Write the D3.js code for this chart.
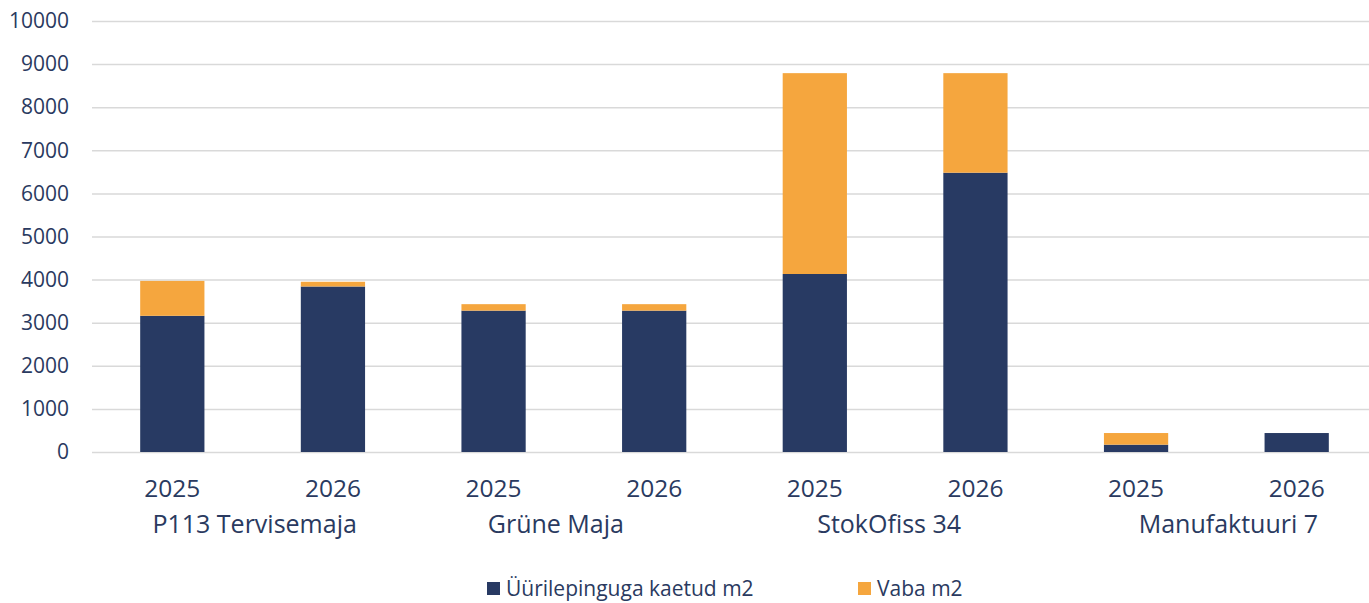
<!DOCTYPE html>
<html>
<head>
<meta charset="utf-8">
<script src="https://cdn.jsdelivr.net/npm/d3@7"></script>
<style>
  html, body { margin: 0; padding: 0; background: #fff; }
  svg { display: block; }
</style>
</head>
<body>
<svg id="chart" width="1369" height="603"></svg>
<script>
// ── Data ────────────────────────────────────────────────────────────────
const buildings = ['P113 Tervisemaja', 'Grüne Maja', 'StokOfiss 34', 'Manufaktuuri 7'];
const years = ['2025', '2026'];
const leasedM2 = [3160, 3840, 3280, 3280, 4130, 6480, 170, 440];
const vacantM2 = [810, 110, 150, 150, 4660, 2310, 270, 0];
const seriesNames = ['Üürilepinguga kaetud m2', 'Vaba m2'];
const yTicks = [0, 1000, 2000, 3000, 4000, 5000, 6000, 7000, 8000, 9000, 10000];

// ── Layout ──────────────────────────────────────────────────────────────
const W = 1369, H = 603;
const PLOT = { left: 92, right: 1377, top: 21, bottom: 452 };
const NAVY = '#283a63';
const ORANGE = '#f5a63e';
const TEXT = '#2a3a60';
const GRID = '#d9d9d9';
const FONT = '"Open Sans", sans-serif';
// Excel nudges the group labels a little off centre
const groupLabelShift = [2, -18, -6, 12];

const rows = [];
buildings.forEach((b, bi) => {
  years.forEach((yr, yi) => {
    const i = bi * years.length + yi;
    rows.push({ key: b + '|' + yr, building: b, year: yr, leased: leasedM2[i], vacant: vacantM2[i] });
  });
});

const svg = d3.select('#chart');

const x = d3.scaleBand()
  .domain(rows.map(d => d.key))
  .range([PLOT.left, PLOT.right])
  .paddingInner(0.6)
  .paddingOuter(0.3);

const y = d3.scaleLinear()
  .domain([0, 10000])
  .range([PLOT.bottom, PLOT.top]);

// Gridlines + y labels
const yAxis = d3.axisLeft(y)
  .tickValues(yTicks)
  .tickSize(-(W - PLOT.left))
  .tickPadding(23)
  .tickFormat(d3.format('d'));

const yG = svg.append('g')
  .attr('transform', `translate(${PLOT.left},0)`)
  .call(yAxis);
yG.select('.domain').remove();
yG.selectAll('line').attr('stroke', GRID).attr('stroke-width', 1.5);
yG.selectAll('text')
  .attr('fill', TEXT)
  .attr('font-family', FONT)
  .attr('font-size', '21px');

// Stacked bars
const stack = d3.stack().keys(['leased', 'vacant']);
const layers = stack(rows);
const colors = [NAVY, ORANGE];

svg.append('g')
  .selectAll('g')
  .data(layers)
  .join('g')
  .attr('fill', (d, i) => colors[i])
  .selectAll('rect')
  .data(d => d)
  .join('rect')
  .attr('x', d => x(d.data.key))
  .attr('width', x.bandwidth())
  .attr('y', d => y(d[1]))
  .attr('height', d => Math.max(0, y(d[0]) - y(d[1])));

// Year labels
svg.append('g')
  .selectAll('text')
  .data(rows)
  .join('text')
  .attr('x', d => x(d.key) + x.bandwidth() / 2)
  .attr('y', 497)
  .attr('text-anchor', 'middle')
  .attr('fill', TEXT)
  .attr('font-family', FONT)
  .attr('font-size', '24.5px')
  .text(d => d.year);

// Building labels
svg.append('g')
  .selectAll('text')
  .data(buildings)
  .join('text')
  .attr('x', (b, i) => {
    const a = x(b + '|' + years[0]);
    const z = x(b + '|' + years[years.length - 1]) + x.bandwidth();
    return (a + z) / 2 + groupLabelShift[i];
  })
  .attr('y', 533)
  .attr('text-anchor', 'middle')
  .attr('fill', TEXT)
  .attr('font-family', FONT)
  .attr('font-size', '25px')
  .text(d => d);

// Legend (kept just clear of the bottom edge)
const legendX = [487, 858];
const legend = svg.append('g')
  .selectAll('g')
  .data(seriesNames)
  .join('g')
  .attr('transform', (d, i) => `translate(${legendX[i]},582)`);

legend.append('rect')
  .attr('width', 13)
  .attr('height', 13)
  .attr('fill', (d, i) => colors[i]);

legend.append('text')
  .attr('x', 19)
  .attr('y', 14)
  .attr('fill', TEXT)
  .attr('font-family', FONT)
  .attr('font-size', '21px')
  .text(d => d);
</script>
</body>
</html>
